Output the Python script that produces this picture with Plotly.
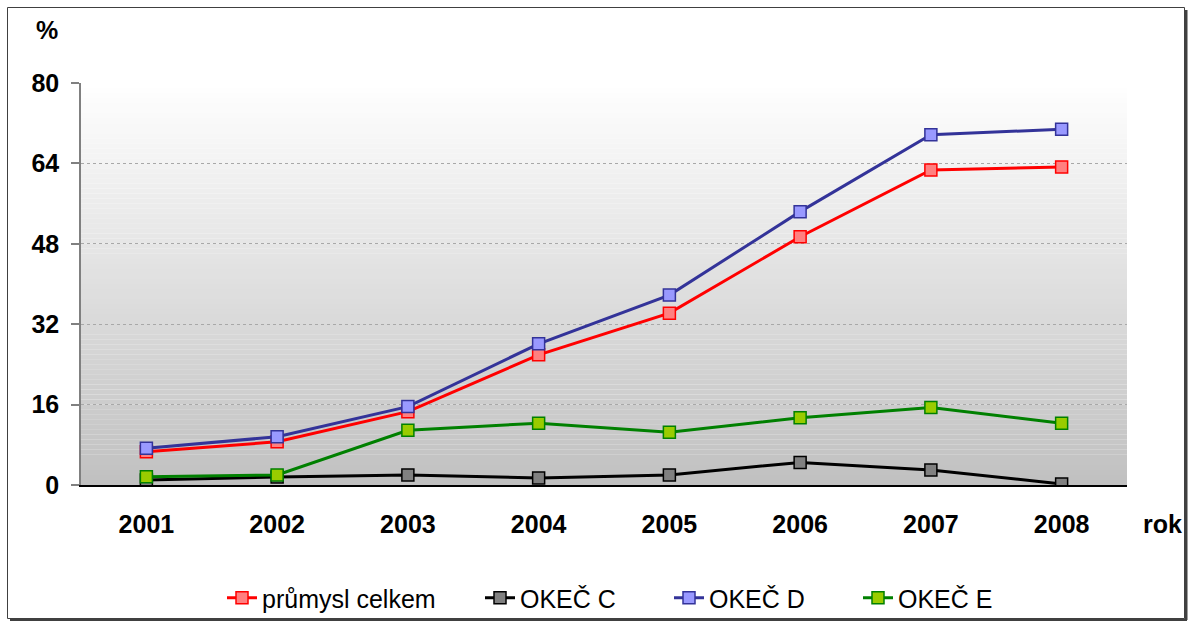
import plotly.graph_objects as go

years = ["2001", "2002", "2003", "2004", "2005", "2006", "2007", "2008"]
prumysl = [6.6, 8.6, 14.6, 25.9, 34.2, 49.4, 62.7, 63.3]
okec_c = [1.0, 1.6, 2.0, 1.4, 2.0, 4.5, 3.0, 0.2]
okec_d = [7.3, 9.6, 15.6, 28.1, 37.8, 54.4, 69.7, 70.8]
okec_e = [1.65, 2.0, 10.9, 12.3, 10.5, 13.4, 15.4, 12.3]
y_ticks = [0, 16, 32, 48, 64, 80]

series = [
    ("průmysl celkem", prumysl, "#FF0000", "#FF8080"),
    ("OKEČ C", okec_c, "#000000", "#808080"),
    ("OKEČ D", okec_d, "#333399", "#9999FF"),
    ("OKEČ E", okec_e, "#008000", "#99CC00"),
]
legend_px = [222, 480, 669, 858]

W, H = 1188, 621
L, R, T, B = 81, 61, 83, 136
PW, PH = W - L - R, H - T - B
FONT = "Liberation Sans, Arial, sans-serif"


def px_x(p):
    return (p - L) / PW


def px_y(p):
    return (H - B - p) / PH


fig = go.Figure()
legend_layouts = {}
for i, (name, vals, lc, mc) in enumerate(series):
    lname = "legend" if i == 0 else f"legend{i + 1}"
    fig.add_trace(go.Scatter(
        x=years, y=vals, name=name, mode="lines+markers",
        line=dict(color=lc, width=3),
        marker=dict(symbol="square", size=12, color=mc,
                    line=dict(color=lc, width=1.5)),
        legend=lname, hoverinfo="skip",
    ))
    legend_layouts[lname] = dict(
        orientation="h", x=px_x(legend_px[i]), y=px_y(598),
        xanchor="left", yanchor="middle",
        font=dict(size=25, family=FONT, color="black"),
        bgcolor="rgba(0,0,0,0)", borderwidth=0, itemwidth=30,
    )

shapes = []
N = 80
for i in range(N):
    t = (i + 0.5) / N
    v = int(round(0xC0 + (0xFF - 0xC0) * t))
    col = f"rgb({v},{v},{v})"
    shapes.append(dict(type="rect", xref="paper", yref="paper",
                       x0=0, x1=1, y0=i / N, y1=(i + 1.02) / N,
                       fillcolor=col, line=dict(width=0), layer="below"))
shapes.append(dict(type="line", xref="paper", yref="paper",
                   x0=px_x(1186), x1=px_x(1186), y0=px_y(10), y1=px_y(620),
                   line=dict(color="#404040", width=3), layer="above"))
shapes.append(dict(type="line", xref="paper", yref="paper",
                   x0=px_x(10), x1=px_x(1187), y0=px_y(620), y1=px_y(620),
                   line=dict(color="#404040", width=2), layer="above"))
shapes.append(dict(type="rect", xref="paper", yref="paper",
                   x0=px_x(7.5), x1=px_x(1184.5), y0=px_y(7.5), y1=px_y(618.5),
                   line=dict(color="#404040", width=1), fillcolor="rgba(0,0,0,0)",
                   layer="above"))

fig.update_layout(
    width=W, height=H,
    margin=dict(l=L, r=R, t=T, b=B, pad=0, autoexpand=False),
    paper_bgcolor="white", plot_bgcolor="white",
    font=dict(family=FONT, color="black"),
    shapes=shapes,
    showlegend=True,
    annotations=[
        dict(text="<b>%</b>", xref="paper", yref="paper", x=px_x(47), y=px_y(30),
             showarrow=False, font=dict(size=25), xanchor="center", yanchor="middle"),
        dict(text="<b>rok</b>", xref="paper", yref="paper", x=px_x(1162), y=px_y(524),
             showarrow=False, font=dict(size=25), xanchor="center", yanchor="middle"),
    ],
    **legend_layouts,
)
fig.update_xaxes(
    type="category", range=[-0.5, 7.5],
    showline=True, linecolor="black", linewidth=1.5,
    ticks="", showgrid=False, zeroline=False,
    tickfont=dict(size=25, family=FONT),
    tickprefix="<b>", ticksuffix="</b>",
    ticklabelstandoff=16,
)
fig.update_yaxes(
    range=[0, 80], tickvals=y_ticks,
    ticktext=[f"<b>{v}</b>" for v in y_ticks],
    showline=True, linecolor="#808080", linewidth=1.5,
    ticks="outside", ticklen=8, tickcolor="#808080", tickwidth=1.5,
    showgrid=True, gridcolor="#A8A8A8", gridwidth=1, griddash="3px,3px",
    zeroline=False,
    tickfont=dict(size=25, family=FONT),
    ticklabelstandoff=7,
)

fig.write_html("out.html",
               config={"displayModeBar": False},
               post_script="document.body.style.margin='0';document.body.style.overflow='hidden';")
